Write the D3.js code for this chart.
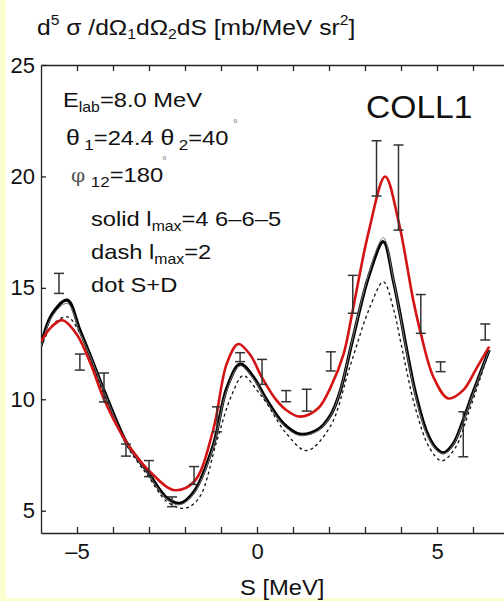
<!DOCTYPE html>
<html>
<head>
<meta charset="utf-8">
<script src="https://cdn.jsdelivr.net/npm/d3@7"></script>
<style>
  html, body { margin: 0; padding: 0; background: #fdfdd2; }
  svg { display: block; font-family: "Liberation Sans", Arial, Helvetica, sans-serif; }
</style>
</head>
<body>
<svg id="chart" width="504" height="601"></svg>
<script>
// Measured cross section (bin centre, value, half error)
const dataS   = [-5.5, -4.92, -4.25, -3.64, -3.0, -2.36, -1.75, -1.11, -0.47, 0.14, 0.81, 1.38, 2.05, 2.66, 3.32, 3.93, 4.55, 5.10, 5.73, 6.34];
const dataVal = [15.2, 11.67, 10.53, 7.72, 6.89, 5.40, 6.58, 9.10, 11.89, 11.23, 10.14, 9.96, 11.70, 14.71, 20.36, 19.50, 13.83, 11.46, 8.43, 13.02];
const dataErr = [0.45, 0.36, 0.65, 0.27, 0.36, 0.22, 0.40, 0.56, 0.20, 0.56, 0.25, 0.49, 0.43, 0.85, 1.24, 1.91, 0.87, 0.22, 1.01, 0.36];

// Calculation, l_max = 4 6-6-5 (solid)
const solidS = [-6.0, -5.7, -5.27, -4.92, -4.6, -4.25, -3.64, -3.3, -3.0, -2.5, -2.14, -1.75, -1.22, -0.84, -0.47, -0.1, 0.27, 0.73, 1.19, 1.7, 2.05, 2.3, 2.66, 3.1, 3.51, 3.79, 4.0, 4.16, 4.4, 4.7, 4.95, 5.18, 5.45, 5.73, 6.0, 6.45];
const solidV = [12.4, 13.8, 14.45, 13.1, 11.84, 10.4, 8.1, 7.3, 6.65, 5.57, 5.33, 5.85, 7.9, 10.5, 11.58, 11.0, 9.97, 8.92, 8.44, 8.65, 9.3, 10.3, 12.7, 15.5, 17.07, 15.3, 13.6, 12.2, 10.3, 8.6, 7.85, 7.6, 8.0, 9.07, 10.3, 12.21];

// Thin companion curve (S+D)
const dotS = solidS;
const dotV = [12.35, 13.7, 14.3, 13.0, 11.8, 10.35, 8.05, 7.25, 6.6, 5.5, 5.27, 5.78, 7.82, 10.4, 11.5, 10.92, 9.9, 8.85, 8.37, 8.6, 9.27, 10.32, 12.75, 15.6, 17.25, 15.35, 13.55, 12.1, 10.2, 8.5, 7.78, 7.55, 7.95, 9.0, 10.25, 12.2];

// Calculation, l_max = 2 (dash)
const dashS = [-6.0, -5.7, -5.27, -4.9, -4.6, -4.25, -3.64, -3.3, -3.0, -2.5, -2.0, -1.6, -1.11, -0.7, -0.38, 0.0, 0.27, 0.8, 1.38, 2.03, 2.58, 3.14, 3.51, 3.8, 4.0, 4.4, 4.8, 5.13, 5.5, 5.9, 6.45];
const dashV = [12.3, 13.3, 13.7, 12.9, 11.7, 10.2, 8.0, 7.15, 6.5, 5.4, 5.11, 5.6, 8.17, 10.2, 11.06, 10.4, 9.82, 8.5, 7.7, 8.77, 11.46, 14.15, 15.27, 14.0, 12.5, 9.6, 7.8, 7.24, 7.8, 9.5, 12.2];

// Red calculation
const redS = [-6.0, -5.7, -5.4, -5.0, -4.6, -4.25, -3.64, -3.3, -3.0, -2.32, -1.75, -1.22, -0.84, -0.52, -0.19, 0.13, 0.5, 0.81, 1.19, 1.7, 2.05, 2.4, 2.66, 3.1, 3.56, 3.93, 4.34, 4.55, 4.9, 5.31, 5.73, 6.1, 6.45];
const redV = [12.6, 13.26, 13.55, 12.9, 11.5, 10.0, 8.1, 7.35, 6.8, 5.93, 6.3, 8.6, 11.6, 12.48, 12.0, 11.0, 10.04, 9.52, 9.22, 9.6, 10.56, 12.0, 14.0, 17.5, 20.0, 18.0, 14.45, 12.96, 11.0, 10.04, 10.41, 11.4, 12.36];

const xTicks = [-5, -4, -3, -2, -1, 0, 1, 2, 3, 4, 5, 6];
const xLabelTicks = [-5, 0, 5];
const yTicks = [5, 10, 15, 20, 25];

const svg = d3.select("#chart");

// page panel
svg.append("rect").attr("x", 6).attr("y", 0).attr("width", 498).attr("height", 598).attr("fill", "#ffffff");

const x = d3.scaleLinear().domain([-6, 7]).range([41, 509]);
const y = d3.scaleLinear().domain([4, 25]).range([533, 65]);

const fmt = d => (d < 0 ? "\u2013" + Math.abs(d) : String(d));

// axes with inward ticks
const axisStyle = g => {
  g.select(".domain").attr("stroke", "#222").attr("stroke-width", 1.3);
  g.selectAll(".tick line").attr("stroke", "#222").attr("stroke-width", 1.3);
  g.selectAll("text").attr("font-size", 22).attr("fill", "#111").attr("font-family", "Liberation Sans, Arial, sans-serif");
};

svg.append("g").attr("transform", `translate(0,${y(4)})`)
  .call(d3.axisBottom(x).tickValues(xTicks).tickSizeInner(-6).tickSizeOuter(0).tickPadding(10)
    .tickFormat(d => xLabelTicks.includes(d) ? fmt(d) : ""))
  .call(axisStyle);

svg.append("g").attr("transform", `translate(0,${y(25)})`)
  .call(d3.axisTop(x).tickValues(xTicks).tickSizeInner(-6).tickSizeOuter(0).tickFormat(""))
  .call(axisStyle);

svg.append("g").attr("transform", `translate(${x(-6)},0)`)
  .call(d3.axisLeft(y).tickValues(yTicks).tickSizeInner(-5).tickSizeOuter(0).tickPadding(6).tickFormat(fmt))
  .call(axisStyle);

svg.append("g").attr("transform", `translate(${x(7)},0)`)
  .call(d3.axisRight(y).tickValues(yTicks).tickSizeInner(-5).tickSizeOuter(0).tickFormat(""))
  .call(axisStyle);

// curves
svg.append("clipPath").attr("id", "plotClip").append("rect")
  .attr("x", x(-6)).attr("y", y(25)).attr("width", x(7) - x(-6)).attr("height", y(4) - y(25));

const line = d3.line().x(d => x(d[0])).y(d => y(d[1])).curve(d3.curveCatmullRom.alpha(0.5));
const curves = svg.append("g").attr("clip-path", "url(#plotClip)");

curves.append("path").datum(d3.zip(dashS, dashV)).attr("d", line)
  .attr("fill", "none").attr("stroke", "#111").attr("stroke-width", 1.3).attr("stroke-dasharray", "3,3");
curves.append("path").datum(d3.zip(solidS, solidV)).attr("d", line)
  .attr("fill", "none").attr("stroke", "#000").attr("stroke-width", 3.2);
curves.append("path").datum(d3.zip(dotS, dotV)).attr("d", line)
  .attr("fill", "none").attr("stroke", "#777").attr("stroke-width", 1);
curves.append("path").datum(d3.zip(redS, redV)).attr("d", line)
  .attr("fill", "none").attr("stroke", "#d41414").attr("stroke-width", 2.6);

// data error bars
const bars = svg.append("g").attr("stroke", "#333").attr("stroke-width", 1.5);
const pts = d3.zip(dataS, dataVal, dataErr);
bars.selectAll("line.v").data(pts).join("line")
  .attr("x1", d => x(d[0])).attr("x2", d => x(d[0]))
  .attr("y1", d => y(d[1] + d[2])).attr("y2", d => y(d[1] - d[2]));
bars.selectAll("line.t").data(pts).join("line")
  .attr("x1", d => x(d[0]) - 5).attr("x2", d => x(d[0]) + 5)
  .attr("y1", d => y(d[1] + d[2])).attr("y2", d => y(d[1] + d[2]));
bars.selectAll("line.b").data(pts).join("line")
  .attr("x1", d => x(d[0]) - 5).attr("x2", d => x(d[0]) + 5)
  .attr("y1", d => y(d[1] - d[2])).attr("y2", d => y(d[1] - d[2]));

// text, drawn slightly widened
const txt = svg.append("g").attr("fill", "#111");
const label = (px, py, size, sx) => txt.append("text")
  .attr("transform", `translate(${px},${py}) scale(${sx},1)`).attr("font-size", size);

const title = label(37, 35, 22, 1.12);
title.append("tspan").text("d");
title.append("tspan").attr("font-size", 14).attr("dy", -10).text("5");
title.append("tspan").attr("dy", 10).text(" \u03c3 /d\u03a9");
title.append("tspan").attr("font-size", 14).attr("dy", 4).text("1");
title.append("tspan").attr("dy", -4).text("d\u03a9");
title.append("tspan").attr("font-size", 14).attr("dy", 4).text("2");
title.append("tspan").attr("dy", -4).text("dS  [mb/MeV sr");
title.append("tspan").attr("font-size", 14).attr("dy", -10).text("2");
title.append("tspan").attr("dy", 10).text("]");

label(240, 595, 22, 1.08).text("S [MeV]");

label(366, 118, 32, 1.05).text("COLL1");

// annotations
const e = label(63, 107, 21, 1.13);
e.append("tspan").text("E");
e.append("tspan").attr("font-size", 14).attr("dy", 5).text("lab");
e.append("tspan").attr("dy", -5).text("=8.0 MeV");

const th = label(66, 145, 21, 1.13);
th.append("tspan").attr("font-size", 22).text("\u03b8");
th.append("tspan").attr("font-size", 15).attr("dx", 4).attr("dy", 5).text("1");
th.append("tspan").attr("dy", -5).text("=24.4 ");
th.append("tspan").attr("font-size", 22).text("\u03b8");
th.append("tspan").attr("font-size", 15).attr("dx", 4).attr("dy", 5).text("2");
th.append("tspan").attr("dy", -5).text("=40");
txt.append("text").attr("x", 233).attr("y", 128).attr("font-size", 12).attr("fill", "#777").text("\u00b0");

const ph = label(71, 182, 21, 1.13);
ph.append("tspan").attr("font-family", "DejaVu Serif, serif").attr("font-size", 18).attr("fill", "#555").text("\u03c6");
ph.append("tspan").attr("font-size", 15).attr("dx", 5).attr("dy", 5).text("12");
ph.append("tspan").attr("dy", -5).text("=180");
txt.append("text").attr("x", 162).attr("y", 165).attr("font-size", 12).attr("fill", "#777").text("\u00b0");

const s1 = label(91, 226, 21, 1.13);
s1.append("tspan").text("solid l");
s1.append("tspan").attr("font-size", 14).attr("dy", 5).text("max");
s1.append("tspan").attr("dy", -5).text("=4 6\u20136\u20135");

const s2 = label(91, 259, 21, 1.13);
s2.append("tspan").text("dash l");
s2.append("tspan").attr("font-size", 14).attr("dy", 5).text("max");
s2.append("tspan").attr("dy", -5).text("=2");

label(91, 292, 21, 1.13).text("dot S+D");
</script>
</body>
</html>
